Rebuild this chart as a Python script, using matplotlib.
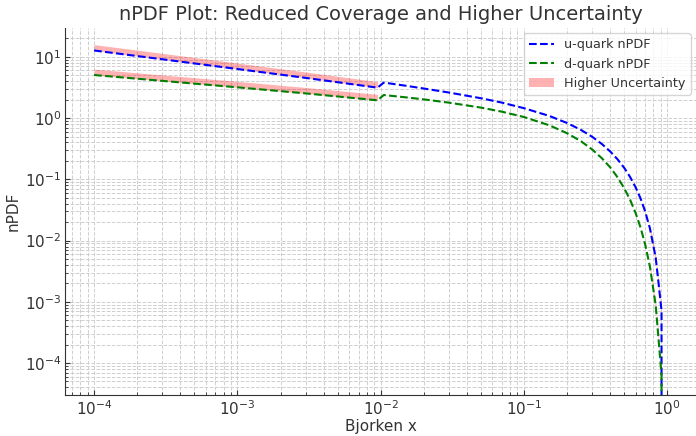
import numpy as np
import matplotlib; matplotlib.use("Agg")
import matplotlib.pyplot as plt

# low-x segment (reduced coverage): central values and the unreduced upper edge
x_low = [1e-4, 3e-4, 1e-3, 3e-3, 0.0095]
u_low = [12.7, 9.12, 6.33, 4.53, 3.14]
u_low_top = [15.85, 11.4, 7.92, 5.66, 3.93]
d_low = [5.05, 4.05, 3.18, 2.53, 1.95]
d_low_top = [6.31, 5.06, 3.98, 3.16, 2.44]

# high-x segment
x_high = [0.0105, 0.015, 0.02, 0.03, 0.05, 0.07, 0.1, 0.15, 0.2, 0.25, 0.3, 0.35,
          0.4, 0.45, 0.5, 0.55, 0.6, 0.65, 0.7, 0.756, 0.83, 0.911, 1.0]
u_high = [3.80, 3.37, 3.04, 2.61, 2.11, 1.79, 1.45, 1.085, 0.830, 0.640, 0.492, 0.376,
          0.284, 0.2115, 0.154, 0.109, 0.0746, 0.0488, 0.0300, 0.0158, 0.00519, 0.000725, 0.0]
d_high = [2.38, 2.18, 2.02, 1.785, 1.483, 1.273, 1.040, 0.763, 0.565, 0.418, 0.305, 0.220,
          0.156, 0.1074, 0.0718, 0.0462, 0.0284, 0.01636, 0.0087, 3.75e-3, 8.67e-4, 6.4e-5, 0.0]

# large-x tail where the uncertainty is also enlarged
x_tail = [0.756, 0.83, 0.911]
u_tail = [0.0158, 0.00519, 0.000725]
d_tail = [3.75e-3, 8.67e-4, 6.4e-5]

x = np.array(x_low + x_high)
u = np.array(u_low + u_high)
d = np.array(d_low + d_high)

TXT = "#333333"
plt.rcParams.update({
    "font.family": "DejaVu Sans",
    "text.color": TXT, "axes.labelcolor": TXT,
    "xtick.color": TXT, "ytick.color": TXT,
    "xtick.direction": "in", "ytick.direction": "in",
    "xtick.labelsize": 11, "ytick.labelsize": 11,
})

fig = plt.figure(figsize=(6.96, 4.36), dpi=100)
ax = fig.add_axes([0.094, 0.094, 0.906, 0.842])

band = dict(color="red", alpha=0.3, linewidth=0)
ax.fill_between(x_low, u_low, u_low_top, label="Higher Uncertainty", **band)
ax.fill_between(x_low, d_low, d_low_top, **band)
ax.fill_between(x_tail, np.array(u_tail) * 0.88, np.array(u_tail) * 1.12, **band)
ax.fill_between(x_tail, np.array(d_tail) * 0.88, np.array(d_tail) * 1.12, **band)

ax.plot(x, u, "--", color="blue", lw=1.5, label="u-quark nPDF")
ax.plot(x, d, "--", color="green", lw=1.5, label="d-quark nPDF")

ax.set_xscale("log")
ax.set_yscale("log")
ax.set_xlabel("Bjorken x", fontsize=11, labelpad=1)
ax.set_ylabel("nPDF", fontsize=11, labelpad=3)
ax.set_title("nPDF Plot: Reduced Coverage and Higher Uncertainty", fontsize=14, color=TXT)

ax.grid(True, which="both", linestyle="--", linewidth=0.7, color="#cfcfcf")
ax.set_axisbelow(True)
for s in ["top", "right"]:
    ax.spines[s].set_visible(False)
for s in ["left", "bottom"]:
    ax.spines[s].set_color(TXT)
ax.tick_params(which="both", direction="in", pad=3)

h, l = ax.get_legend_handles_labels()
order = [l.index("u-quark nPDF"), l.index("d-quark nPDF"), l.index("Higher Uncertainty")]
leg = ax.legend([h[i] for i in order], [l[i] for i in order], loc="upper right",
                fontsize=9.2, borderaxespad=0.4)
leg.get_frame().set_edgecolor("#cccccc")

fig.savefig("out.png", dpi=100)
